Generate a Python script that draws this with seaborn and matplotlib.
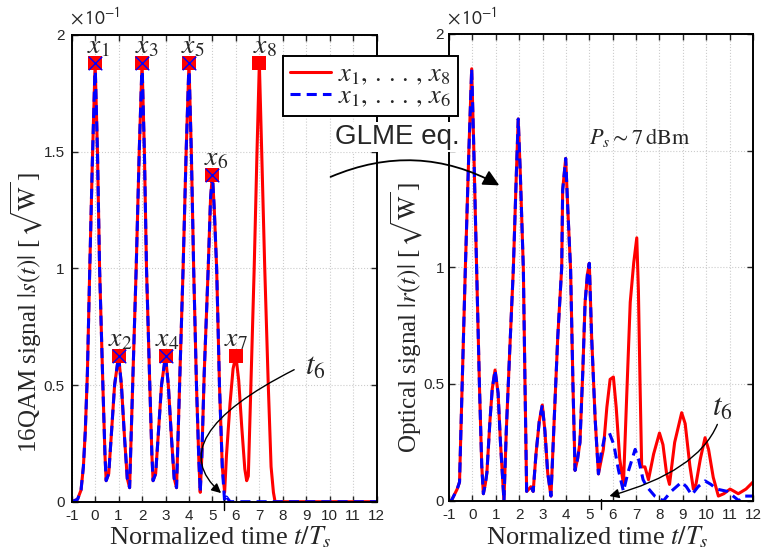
import matplotlib
matplotlib.use("Agg")
import matplotlib.pyplot as plt
from matplotlib.patches import FancyArrowPatch
import seaborn as sns

# values, y in units of 1e-1 sqrt(W)
# left panel: |s(t)| for x1..x8 (red) and x1..x6 (blue)
t_s_red = [-1, -0.75, -0.6, -0.5, -0.42, -0.33, -0.24, -0.12, 0, 0.1, 0.19, 0.33, 0.42, 0.47,
           0.58, 0.7, 0.83, 1.0, 1.12, 1.25, 1.37, 1.47, 1.6, 1.75, 1.88, 2.0,
           2.1, 2.19, 2.33, 2.42, 2.47, 2.58, 2.7, 2.83, 3.0, 3.12, 3.25, 3.37, 3.47, 3.6, 3.75, 3.88, 4.0,
           4.1, 4.2, 4.32, 4.42, 4.48, 4.55, 4.65, 4.82, 4.92, 5.0, 5.08, 5.18, 5.3, 5.42,
           5.52, 5.6, 5.75, 5.88, 6.0, 6.12, 6.25, 6.38, 6.46, 6.53, 6.64, 6.78, 6.9, 7.0,
           7.1, 7.23, 7.38, 7.5, 7.6, 7.67, 8, 12]
s_red = [0, 0.01, 0.05, 0.15, 0.3, 0.55, 0.95, 1.45, 1.88, 1.5, 1.0, 0.5, 0.2, 0.09,
         0.12, 0.3, 0.5, 0.625, 0.5, 0.28, 0.1, 0.06, 0.5, 1.0, 1.5, 1.88,
         1.5, 1.0, 0.5, 0.2, 0.09, 0.12, 0.3, 0.5, 0.625, 0.5, 0.28, 0.1, 0.06, 0.5, 1.0, 1.5, 1.88,
         1.5, 1.0, 0.5, 0.18, 0.04, 0.2, 0.55, 1.0, 1.3, 1.40, 1.25, 1.0, 0.5, 0.15,
         0.04, 0.2, 0.42, 0.57, 0.625, 0.52, 0.32, 0.14, 0.09, 0.11, 0.5, 1.0, 1.5, 1.88,
         1.5, 1.0, 0.5, 0.15, 0.04, 0, 0, 0]
t_s_blue = t_s_red[:57] + [5.52, 5.6, 5.75, 12]
s_blue = s_red[:57] + [0.0, 0.02, 0.0, 0]

sym_t = [0, 1, 2, 3, 4, 5, 6, 7]
sym_amp = [1.88, 0.625, 1.88, 0.625, 1.88, 1.40, 0.625, 1.88]
sym_names = ["$x_1$", "$x_2$", "$x_3$", "$x_4$", "$x_5$", "$x_6$", "$x_7$", "$x_8$"]

# right panel: |r(t)| after propagation (GLME)
t_r_common = [-1, -0.9, -0.8, -0.65, -0.55, -0.45, -0.3, -0.15, -0.03, 0.05, 0.18, 0.3, 0.4, 0.47,
              0.55, 0.62, 0.75, 0.85, 0.97, 1.1, 1.2, 1.35, 1.45, 1.6, 1.75, 1.88, 1.96,
              2.05, 2.18, 2.25, 2.32, 2.42, 2.5, 2.6, 2.72, 2.86, 2.99, 3.1, 3.22, 3.36,
              3.5, 3.65, 3.82, 3.86, 3.99, 4.08, 4.2, 4.3, 4.39, 4.5, 4.6, 4.72, 4.82, 4.92,
              5.0, 5.1, 5.25, 5.39]
r_common = [0.0, 0.0, 0.02, 0.05, 0.08, 0.45, 1.0, 1.5, 1.85, 1.55, 1.0, 0.5, 0.15, 0.03,
            0.07, 0.12, 0.34, 0.48, 0.56, 0.46, 0.25, 0.0, 0.3, 0.65, 0.99, 1.4, 1.635,
            1.4, 0.99, 0.5, 0.04, 0.05, 0.06, 0.04, 0.2, 0.34, 0.41, 0.3, 0.12, 0.02,
            0.35, 0.7, 1.0, 1.33, 1.466, 1.25, 0.99, 0.5, 0.13, 0.18, 0.25, 0.55, 0.85, 0.97,
            1.017, 0.7, 0.35, 0.115]
t_r_red = t_r_common + [5.5, 5.6, 5.75, 5.89, 6.03, 6.15, 6.3, 6.46, 6.6, 6.75, 6.9, 7.03,
                        7.1, 7.17, 7.24, 7.38, 7.53, 7.75, 8.0, 8.15, 8.3, 8.43, 8.65, 8.95,
                        9.1, 9.3, 9.45, 9.56, 9.75, 9.95, 10.1, 10.3, 10.52, 10.75, 11.02,
                        11.2, 11.37, 11.7, 12]
r_red = r_common + [0.17, 0.22, 0.4, 0.52, 0.53, 0.4, 0.18, 0.07, 0.45, 0.85, 1.02, 1.126,
                    0.9, 0.5, 0.145, 0.145, 0.09, 0.2, 0.29, 0.24, 0.12, 0.07, 0.25, 0.377,
                    0.33, 0.15, 0.05, 0.07, 0.18, 0.27, 0.22, 0.1, 0.02, 0.03, 0.05,
                    0.04, 0.03, 0.05, 0.08]
t_r_blue = t_r_common + [5.5, 5.65, 5.86, 6.05, 6.25, 6.46, 6.65, 6.96, 7.1, 7.3, 7.46, 7.8,
                         8.17, 8.5, 8.95, 9.15, 9.38, 9.65, 9.95, 10.2, 10.45, 10.9, 11.4,
                         11.6, 12]
r_blue = r_common + [0.2, 0.27, 0.29, 0.24, 0.13, 0.04, 0.12, 0.22, 0.18, 0.09, 0.06, 0.02,
                     0.0, 0.04, 0.08, 0.06, 0.025, 0.06, 0.085, 0.07, 0.05, 0.04, 0.0,
                     0.02, 0.02]

x_ticks = list(range(-1, 13))
y_ticks = [0, 0.5, 1, 1.5, 2]
y_ticklabels_left = ["0", "0.5", "1", "1.5", "2"]
y_ticklabels_right = ["0", "0.5", "1", "", "2"]  # 1.5 sits under "GLME eq." in the original
t6 = 5.5

sns.set_theme(style="ticks")
plt.rcParams.update({
    "font.family": ["Liberation Sans", "DejaVu Sans"],
    "mathtext.fontset": "stix",
    "axes.unicode_minus": False,
    "xtick.direction": "in",
    "ytick.direction": "in",
    "xtick.top": True,
    "ytick.right": True,
    "xtick.major.size": 4,
    "ytick.major.size": 4,
    "xtick.major.width": 1.0,
    "ytick.major.width": 1.0,
    "axes.linewidth": 1.4,
    "axes.edgecolor": "black",
})
SERIF = ["Liberation Serif", "DejaVu Serif"]

fig = plt.figure(figsize=(7.64, 5.57), dpi=100)
ax1 = fig.add_axes([0.0938, 0.0993, 0.3992, 0.8379])
ax2 = fig.add_axes([0.5877, 0.1010, 0.3979, 0.8384])

dash = (0, (3.3, 2.0))
sns.lineplot(x=t_s_red, y=s_red, ax=ax1, color="red", lw=2.2, sort=False, estimator=None)
sns.lineplot(x=t_s_blue, y=s_blue, ax=ax1, color="blue", lw=2.2, linestyle=dash,
             sort=False, estimator=None)
sns.lineplot(x=t_r_red, y=r_red, ax=ax2, color="red", lw=2.2, sort=False, estimator=None)
sns.lineplot(x=t_r_blue, y=r_blue, ax=ax2, color="blue", lw=2.2, linestyle=dash,
             sort=False, estimator=None)

# symbol markers
sns.scatterplot(x=sym_t, y=sym_amp, ax=ax1, marker="s", s=95, color="red",
                edgecolor="red", linewidth=0, zorder=5)
sns.scatterplot(x=sym_t[:6], y=sym_amp[:6], ax=ax1, marker="x", s=95, color="blue",
                linewidth=1.0, zorder=6)

label_dt = [0.15, 0.06, 0.2, 0.05, 0.18, 0.15, 0.0, 0.24]
for t, a, name, dt in zip(sym_t, sym_amp, sym_names, label_dt):
    ax1.text(t + dt, a + 0.015, name, ha="center", va="bottom", fontsize=20, zorder=7)

for ax, ylabs in ((ax1, y_ticklabels_left), (ax2, y_ticklabels_right)):
    ax.set_xlim(-1, 12)
    ax.set_ylim(0, 2)
    ax.set_xticks(x_ticks)
    ax.set_xticklabels([str(v) for v in x_ticks])
    ax.set_yticks(y_ticks)
    ax.set_yticklabels(ylabs)
    ax.tick_params(labelsize=11, pad=5)
    ax.grid(True, color="#cccccc", linestyle=":", linewidth=0.8)
    ax.set_xlabel("")
    ax.set_ylabel("")
    for sp in ax.spines.values():
        sp.set_visible(True)
    ax.text(0.488, -0.077, r"Normalized time $t/T_s$", transform=ax.transAxes,
            ha="center", va="center", fontsize=19, family=SERIF)
    # t6 tick on the time axis
    ax.axvline(t6, ymin=-0.017, ymax=0.004, color="black", lw=1.0, clip_on=False)
ax2.tick_params(axis="y", pad=3.5)

ax1.text(-0.147, 0.406, r"16QAM signal $|s(t)|$ [$\,\sqrt{\mathrm{W}}\,$]", transform=ax1.transAxes,
         rotation=90, ha="center", va="center", fontsize=18, family=SERIF)
ax2.text(-0.14, 0.393, r"Optical signal $|r(t)|$ [$\,\sqrt{\mathrm{W}}\,$]", transform=ax2.transAxes,
         rotation=90, ha="center", va="center", fontsize=18, family=SERIF)

fig.text(70 / 764, 1 - 17 / 557, r"$\times\,\mathsf{10}^{\mathsf{-1}}$", ha="left", va="center",
         fontsize=14)
fig.text(447 / 764, 1 - 17 / 557, r"$\times\,\mathsf{10}^{\mathsf{-1}}$", ha="left", va="center",
         fontsize=14)

# t6 annotations
ax1.text(9.37, 0.58, "$t_6$", ha="center", va="center", fontsize=22)
ax1.annotate("", xy=(5.46, 0.029), xytext=(8.59, 0.571),
             arrowprops=dict(arrowstyle="-|>", color="black", lw=1.0, mutation_scale=14,
                             connectionstyle="angle3,angleA=26.6,angleB=-40"))
ax2.text(10.68, 0.40, "$t_6$", ha="center", va="center", fontsize=22)
ax2.annotate("", xy=(5.745, 0.017), xytext=(10.52, 0.338),
             arrowprops=dict(arrowstyle="-|>", color="black", lw=1.0, mutation_scale=14,
                             connectionstyle="angle3,angleA=69,angleB=15"))

ax2.text(7.17, 1.557, r"$P_s\sim 7\,\mathrm{dBm}$", ha="center", va="center", fontsize=16)

# GLME arrow between the panels
fig.text(397.5 / 764, 1 - 137 / 557, "GLME eq.", ha="center", va="center", fontsize=20,
         bbox=dict(facecolor="white", edgecolor="none", pad=1.5), zorder=10)
fig.add_artist(FancyArrowPatch((328 / 764, 1 - 178 / 557), (501.7 / 764, 1 - 186.7 / 557),
                               transform=fig.transFigure, arrowstyle="-|>", mutation_scale=24,
                               connectionstyle="arc3,rad=-0.25", color="black", lw=1.3))

h = ax1.get_lines()
leg = fig.legend([h[0], h[1]], [r"$x_1,\,.\,.\,.\,,\,x_8$", r"$x_1,\,.\,.\,.\,,\,x_6$"],
                 loc="upper left", bbox_to_anchor=(283 / 764, 1 - 56 / 557), borderaxespad=0,
                 fontsize=19, frameon=True, fancybox=False, framealpha=1, edgecolor="black",
                 handlelength=1.55, labelspacing=-0.1, borderpad=0.25, handletextpad=0.3)
leg.get_frame().set_linewidth(1.4)
leg.set_zorder(10)

fig.savefig("out.png", dpi=100)
